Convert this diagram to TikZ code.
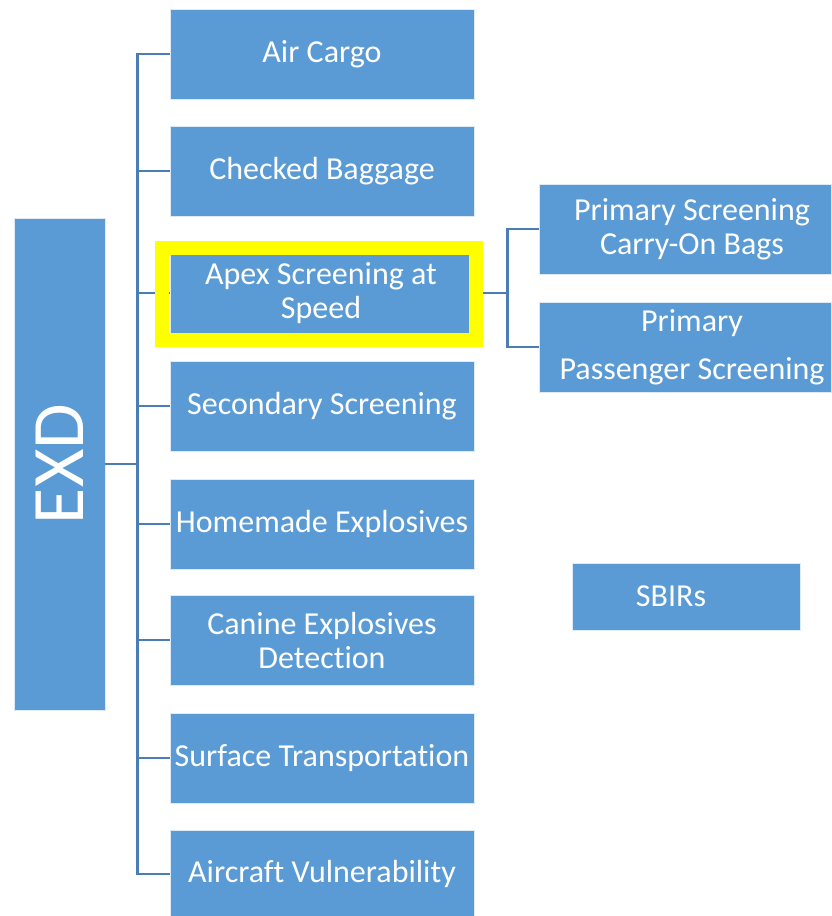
\documentclass[tikz,border=0pt]{standalone}
\usepackage{fontspec}
\setmainfont{Carlito}[Ligatures=NoCommon]
\usetikzlibrary{calc}
\definecolor{boxblue}{HTML}{5B9BD5}
\definecolor{linkblue}{HTML}{4A7DB3}
\definecolor{hlyellow}{HTML}{FFFF00}
\begin{document}
\begin{tikzpicture}[x=1pt,y=-1pt,
  box/.style={fill=boxblue, draw=white!80!boxblue, line width=0.8pt, text=white, inner sep=0pt, align=center,
    font=\fontsize{32}{34}\selectfont, minimum width=304pt, minimum height=90pt},
  conn/.style={draw=linkblue, line width=2.4pt},
  hl/.style={draw=hlyellow, line width=14pt}]
\useasboundingbox[fill=white] (0,0) rectangle (831,916);
\node[box, minimum width=91pt, minimum height=492pt] (exd) at (59.5,464) {\rotatebox{90}{\fontsize{74}{80}\selectfont EXD}};
\node[box] (air) at (322,54) {Air Cargo};
\node[box] (checked) at (322,171) {Checked Baggage};
\node[box, minimum width=302pt, minimum height=80pt] (apex) at (321,293) {Apex Screening at\\Speed};
\node[box] (secondary) at (322,406) {Secondary Screening};
\node[box] (homemade) at (322,524) {Homemade Explosives};
\node[box] (canine) at (322,640) {Canine Explosives\\Detection};
\node[box] (surface) at (322,758) {Surface Transportation};
\node[box, minimum height=88pt] (aircraft) at (322,874) {Aircraft Vulnerability};
\node[box, minimum width=292pt] (psc) at (685,229) {\hspace*{14pt}Primary Screening\\\hspace*{14pt}Carry-On Bags};
\node[box, minimum width=292pt] (pps) at (685,347) {\hspace*{14pt}Primary\\[14pt]\hspace*{14pt}Passenger Screening};
\node[box, minimum width=228pt, minimum height=67pt] (sbir) at (686,596.5) {SBIRs\hspace*{30pt}};
\foreach \c in {air,checked,apex,secondary,homemade,canine,surface,aircraft}
  \draw[conn] (exd.east) -- ++(32,0) |- (\c.west);
\draw[conn] (apex.east) -- ++(35,0) |- (psc.west);
\draw[conn] (apex.east) -- ++(35,0) |- (pps.west);
\draw[hl] ($(apex.north west)+(-8,-5)$) rectangle ($(apex.south east)+(4,7)$);
\end{tikzpicture}
\end{document}
